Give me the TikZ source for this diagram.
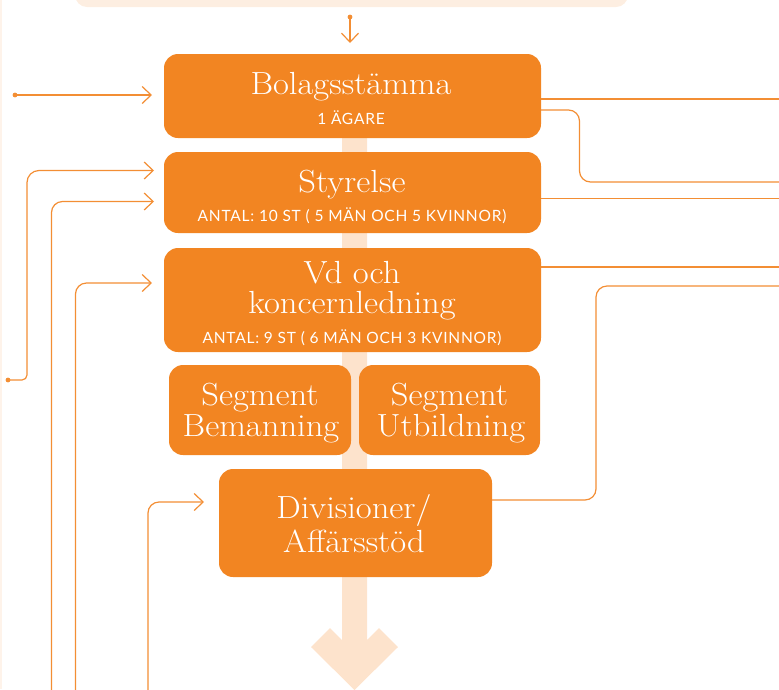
\documentclass[tikz,border=0pt]{standalone}
\usepackage{fontspec}
\newfontfamily\subfont{Lato}[LetterSpace=5]
\newfontfamily\titlefont{Latin Modern Roman}[FakeStretch=1.08]
\usetikzlibrary{arrows.meta}
\definecolor{org}{RGB}{242,133,34}
\definecolor{lineorg}{RGB}{243,142,52}
\definecolor{pale}{RGB}{253,227,204}
\definecolor{paletop}{RGB}{253,238,225}
\definecolor{edgec}{RGB}{254,243,234}
\begin{document}
\begin{tikzpicture}[x=1pt,y=-1pt,
  box/.style={fill=org, rounded corners=14pt, inner sep=0pt, outer sep=0pt},
  title/.style={text=white, font=\titlefont\fontsize{32}{32}\selectfont, anchor=base, inner sep=0pt},
  firstline/.style={text depth=0pt},
  sub/.style={text=white, font=\subfont\fontsize{15.5}{16}\selectfont, anchor=base, inner sep=0pt},
  conn/.style={draw=lineorg, line width=1.2pt, rounded corners=11pt},
  arr/.style={-{Straight Barb[length=9pt,width=17pt,line width=1.2pt]}},
  dotc/.style={fill=lineorg}]
\useasboundingbox (0,0) rectangle (779,689);

% faint edge and top box
\fill[edgec] (0,0) rectangle (1.5,689);
\fill[paletop, rounded corners=12pt] (75,-30) rectangle (628,7);

% central flow arrow
\fill[pale] (342,130) -- (342,640) -- (330,628) -- (311,647) -- (354.5,690)
  -- (398,647) -- (379,628) -- (367,640) -- (367,130) -- cycle;

% boxes
\node[box, minimum width=377pt, minimum height=84pt] (bolag) at (352.5,96) {};
\node[box, minimum width=377pt, minimum height=81pt] (styr) at (352.5,192.5) {};
\node[box, minimum width=377pt, minimum height=104pt] (vd) at (352.5,300) {};
\node[box, minimum width=182pt, minimum height=90pt] (segb) at (260,410) {};
\node[box, minimum width=181pt, minimum height=90pt] (segu) at (449.5,410) {};
\node[box, minimum width=273pt, minimum height=108pt] (div) at (355.5,523) {};

% texts
\node[title] (tbolag) at (351,94) {Bolagsstämma};
\node[sub] (sbolag) at (351,124) {1 ÄGARE};
\node[title] (tstyr) at (352,192) {Styrelse};
\node[sub] (sstyr) at (352,221.5) {ANTAL: 10 ST ( 5 MÄN OCH 5 KVINNOR)};
\node[title,firstline] (tvd1) at (352,283) {Vd och};
\node[title] (tvd2) at (352,313) {koncernledning};
\node[sub] (svd) at (352,343) {ANTAL: 9 ST ( 6 MÄN OCH 3 KVINNOR)};
\node[title,firstline] (tsegb1) at (260,405.5) {Segment};
\node[title] (tsegb2) at (261,436.5) {Bemanning};
\node[title,firstline] (tsegu1) at (449.5,405.5) {Segment};
\node[title] (tsegu2) at (451,436.5) {Utbildning};
\node[title,firstline] (tdiv1) at (354,518) {Divisioner/};
\node[title] (tdiv2) at (354,552.5) {Affärsstöd};

% connector end points
\coordinate (topdot) at (350,17);
\coordinate (toptip) at (350,43);
\coordinate (inA) at (15,95);
\coordinate (inB) at (8,380);
\coordinate (inC) at (51.5,700);
\coordinate (inD) at (75.5,700);
\coordinate (inE) at (148,700);
\coordinate (outA) at (785,99);
\coordinate (outB) at (785,182);
\coordinate (outC) at (785,198.5);
\coordinate (outD) at (785,267);
\coordinate (outE) at (785,286);

% top arrow
\fill[dotc] (topdot) circle (2.4pt);
\draw[conn,arr] (topdot) -- (toptip);

% left incoming arrows
\fill[dotc] (inA) circle (2.4pt);
\draw[conn,arr] (inA) -- ([xshift=-12pt]bolag.west |- inA);
\fill[dotc] (inB) circle (2.4pt);
\draw[conn,arr,rounded corners=5pt] (inB) -- (27,380) -- (27,250)
  [rounded corners=12pt] -- (27,170.5) -- ([xshift=-10pt]styr.west |- 0,170.5);
\draw[conn,arr] (inC) -- (51.5,201.5) -- ([xshift=-10pt]styr.west |- 0,201.5);
\draw[conn,arr] (inD) -- (75.5,283) -- ([xshift=-12pt]vd.west |- 0,283);
\draw[conn,arr] (inE) -- (148,502) -- ([xshift=-15pt]div.west |- 0,502);

% right outgoing lines
\draw[conn] (bolag.east |- outA) -- (outA);
\draw[conn] (bolag.east |- 0,110) -- (579.5,110) -- (579.5,182) -- (outB);
\draw[conn] (styr.east |- outC) -- (outC);
\draw[conn] (vd.east |- outD) -- (outD);
\draw[conn] (div.east |- 0,500) -- (596,500) -- (596,286) -- (outE);
\end{tikzpicture}
\end{document}
